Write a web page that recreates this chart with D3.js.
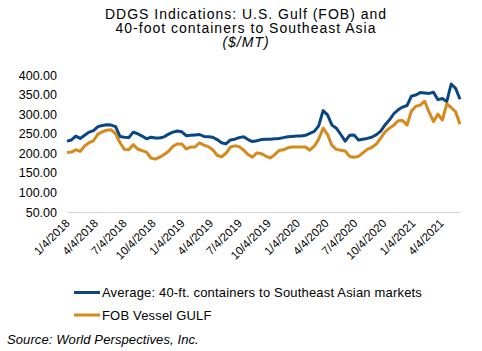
<!DOCTYPE html>
<html>
<head>
<meta charset="utf-8">
<script src="https://cdn.jsdelivr.net/npm/d3@7"></script>
<style>
  body { margin: 0; background: #fff; }
  svg { font-family: "Liberation Sans", Arial, sans-serif; }
</style>
</head>
<body>
<div id="chart"></div>
<script>
// biweekly readings, starting 1/4/2018
var startDate = new Date(2018, 0, 4)
var stepDays = 14

var containerAvg = [
  231, 234, 244, 238, 246, 254, 258, 268, 271, 273,
  272, 268, 243, 241, 240, 254, 250, 244, 237, 241,
  239, 239, 242, 249, 254, 257, 255, 245, 246, 247,
  248, 243, 242, 241, 235, 227, 224, 234, 236, 240,
  242, 235, 230, 232, 235, 236, 236, 237, 238, 240,
  242, 243, 244, 244, 246, 251, 256, 270, 309, 298,
  272, 264, 248, 231, 246, 247, 234, 236, 238, 241,
  247, 256, 272, 285, 301, 311, 318, 322, 346, 349,
  355, 354, 353, 356, 337, 340, 332, 377, 366, 338
]

var fobGulf = [
  202, 203, 209, 205, 219, 227, 232, 249, 255, 259,
  260, 250, 227, 210, 209, 222, 211, 207, 203, 188,
  185, 190, 197, 205, 218, 224, 224, 211, 216, 216,
  227, 221, 217, 209, 195, 191, 200, 216, 219, 217,
  208, 197, 190, 201, 199, 193, 188, 196, 207, 209,
  214, 216, 216, 216, 216, 208, 218, 236, 264, 248,
  220, 210, 208, 206, 192, 190, 192, 201, 210, 215,
  223, 238, 254, 264, 272, 283, 284, 272, 308, 320,
  323, 333, 305, 281, 300, 285, 326, 317, 306, 274
]

var yTicks = [50, 100, 150, 200, 250, 300, 350, 400]
var xTickDates = [
  '1/4/2018', '4/4/2018', '7/4/2018', '10/4/2018',
  '1/4/2019', '4/4/2019', '7/4/2019', '10/4/2019',
  '1/4/2020', '4/4/2020', '7/4/2020', '10/4/2020',
  '1/4/2021', '4/4/2021'
]

var seriesNames = ['Average: 40-ft. containers to Southeast Asian markets', 'FOB Vessel GULF']
var seriesColors = ['#0b4684', '#d8891c']

var width = 482
var height = 351

var svg = d3.select('#chart')
  .append('svg')
  .attr('width', width)
  .attr('height', height)

var parseDate = d3.timeParse('%m/%d/%Y')
var fmtDate = d3.timeFormat('%-m/%-d/%Y')
var dates = containerAvg.map((d, i) => d3.timeDay.offset(startDate, i * stepDays))

var x = d3.scaleTime()
  .domain([dates[0], dates[dates.length - 1]])
  .range([67, 460])

var y = d3.scaleLinear()
  .domain([50, 400])
  .range([212, 75])

// title
var title = svg.append('text')
  .attr('text-anchor', 'middle')
  .attr('font-size', '14px')
  .attr('letter-spacing', '1px')
  .attr('fill', '#000')
title.append('tspan').attr('x', 246).attr('y', 19).text('DDGS Indications: U.S. Gulf (FOB) and')
title.append('tspan').attr('x', 246).attr('y', 33).text('40-foot containers to Southeast Asia')
title.append('tspan').attr('x', 246).attr('y', 47).attr('font-style', 'italic').text('($/MT)')

// y axis
svg.append('g')
  .attr('transform', 'translate(57,0)')
  .call(d3.axisLeft(y).tickValues(yTicks).tickSize(0).tickPadding(0).tickFormat(d3.format('.2f')))
  .call(g => g.select('.domain').remove())
  .selectAll('text')
  .attr('font-size', '12.5px')
  .attr('fill', '#000')
  .attr('font-family', '"Liberation Sans", Arial, sans-serif')

// x axis
var xAxis = svg.append('g')
  .attr('transform', 'translate(0,212)')
  .call(d3.axisBottom(x).tickValues(xTickDates.map(parseDate)).tickSize(0).tickFormat(fmtDate))
xAxis.select('.domain').attr('stroke', '#d9d9d9').attr('stroke-width', 1)
xAxis.selectAll('text')
  .attr('font-size', '11.5px')
  .attr('fill', '#000')
  .attr('font-family', '"Liberation Sans", Arial, sans-serif')
  .attr('text-anchor', 'end')
  .attr('y', 0)
  .attr('dy', 0)
  .attr('transform', 'translate(3,12) rotate(-45)')

// lines
var line = d3.line()
  .x((d, i) => x(dates[i]))
  .y(d => y(d))

;[containerAvg, fobGulf].forEach((vals, k) => {
  svg.append('path')
    .datum(vals)
    .attr('fill', 'none')
    .attr('stroke', seriesColors[k])
    .attr('stroke-width', 3)
    .attr('stroke-linejoin', 'round')
    .attr('d', line)
})

// legend
seriesNames.forEach((name, k) => {
  var ly = 292.5 + k * 22.5
  svg.append('line')
    .attr('x1', 74).attr('x2', 100)
    .attr('y1', ly).attr('y2', ly)
    .attr('stroke', seriesColors[k])
    .attr('stroke-width', 3)
  svg.append('text')
    .attr('x', 102)
    .attr('y', ly + 4.5)
    .attr('font-size', '13px')
    .attr('letter-spacing', '0.18px')
    .attr('fill', '#000')
    .text(name)
})

// source
svg.append('text')
  .attr('x', 7)
  .attr('y', 344)
  .attr('font-size', '13px')
  .attr('letter-spacing', '0.1px')
  .attr('font-style', 'italic')
  .attr('fill', '#000')
  .text('Source: World Perspectives, Inc.')
</script>
</body>
</html>
